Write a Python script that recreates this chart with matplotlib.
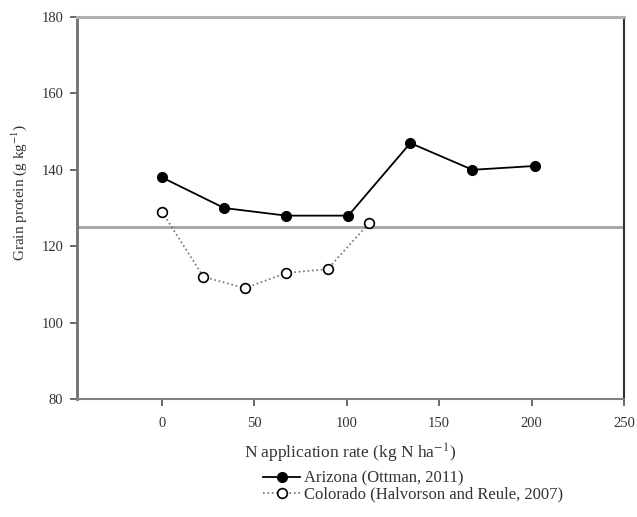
import numpy as np
import matplotlib
matplotlib.use("Agg")
from matplotlib import pyplot as plt

# Data
az_rate = [0, 33.6, 67.2, 100.8, 134.4, 168, 201.6]     # kg N/ha
az_protein = [138, 130, 128, 128, 147, 140, 141]         # g/kg
co_rate = [0, 22.4, 44.8, 67.2, 89.6, 112]
co_protein = [129, 112, 109, 113, 114, 126]
ref_level = 125

x_ticks = [0, 50, 100, 150, 200, 250]
y_ticks = [80, 100, 120, 140, 160, 180]

plt.rcParams['font.family'] = ['Liberation Serif', 'DejaVu Serif']
plt.rcParams['mathtext.fontset'] = 'stix'
text_col = '#333333'

fig = plt.figure(figsize=(6.37, 5.17), dpi=100)
ax = fig.add_axes([77/637, 1 - 399/517, (624-77)/637, (399-17)/517])

# Reference line at 125 g/kg
ax.axhline(ref_level, color='#a8a8a8', lw=2.2, zorder=1)

ax.plot(az_rate, az_protein, '-o', color='black', lw=1.3, ms=7,
        mfc='black', mec='black', label='Arizona (Ottman, 2011)', zorder=3)
ax.plot(co_rate, co_protein, ':o', color='#707070', lw=1.2, ms=7,
        mfc='white', mec='black', mew=1.2,
        label='Colorado (Halvorson and Reule, 2007)', zorder=3)

ax.set_xlim(-46, 250)
ax.set_ylim(80, 180)
ax.set_xticks(x_ticks)
ax.set_yticks(y_ticks)
ax.tick_params(direction='out', length=5, width=1.2, color='#505050',
               labelsize=10.5, labelcolor=text_col)
ax.tick_params(axis='x', pad=8)
ax.tick_params(axis='y', pad=5)

ax.spines['top'].set_color('#b0b0b0')
ax.spines['top'].set_linewidth(2.2)
ax.spines['left'].set_color('#707070')
ax.spines['left'].set_linewidth(2)
ax.spines['bottom'].set_color('#808080')
ax.spines['bottom'].set_linewidth(1.5)
ax.spines['right'].set_color('#303030')
ax.spines['right'].set_linewidth(1.5)

ax.set_ylabel(r'Grain protein (g kg$^{-1}$)', fontsize=11, color=text_col)
ax.yaxis.set_label_coords(-0.088, 0.54)
ax.set_xlabel(r'N application rate (kg N ha$^{-1}$)', fontsize=12.5,
              color=text_col)
ax.xaxis.set_label_coords(0.5, -0.112)

fig.legend(loc='upper left', bbox_to_anchor=(255/637, 1 - 462/517),
           frameon=False, fontsize=12, handlelength=2.2,
           handletextpad=0.25, labelspacing=0.0, borderpad=0,
           labelcolor=text_col)

fig.savefig('out.png', dpi=100)
